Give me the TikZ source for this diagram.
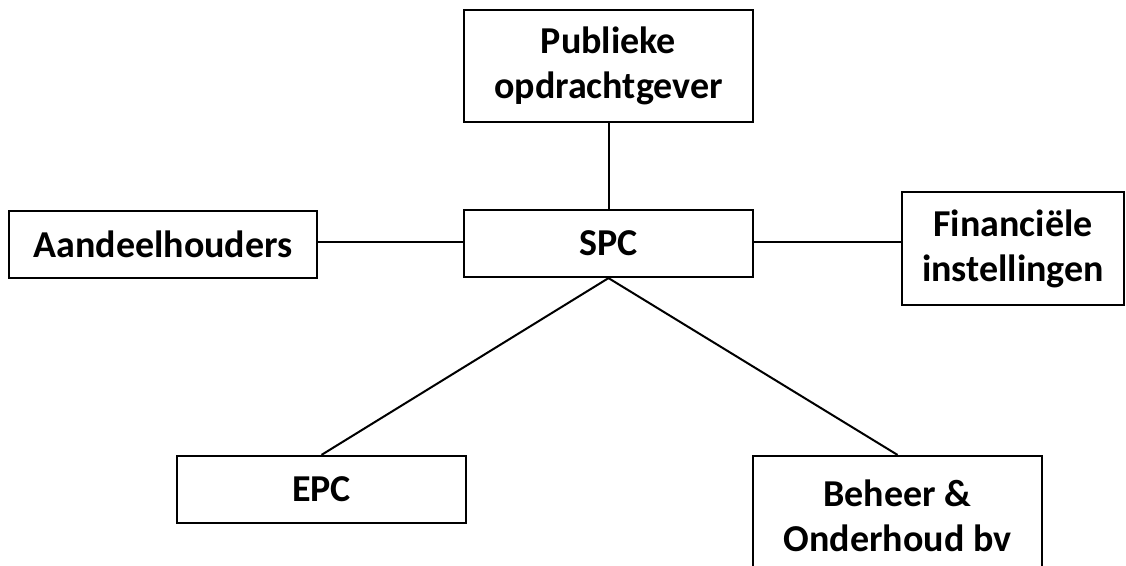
\documentclass[tikz,border=0pt]{standalone}
\usepackage{fontspec}
\setmainfont{Carlito}
\begin{document}
\begin{tikzpicture}[x=1pt,y=-1pt,
  box/.style={draw=black, line width=2.2pt, rectangle, inner sep=0pt,
    align=center, font=\fontsize{38}{45}\selectfont\bfseries},
  link/.style={draw=black, line width=2pt}]
\clip (0,0) rectangle (1126,565);
\fill[white] (0,0) rectangle (1126,565);

\node[box, minimum width=289pt, minimum height=112pt] (pub) at (608.5,66) {Publieke\\opdrachtgever};
\node[box, minimum width=289pt, minimum height=67pt] (spc) at (608.5,243.5) {SPC};
\node[box, minimum width=308pt, minimum height=67pt] (aand) at (163,244.5) {Aandeelhouders};
\node[box, minimum width=222pt, minimum height=113pt] (fin) at (1013,248.5) {Financiële\\instellingen};
\node[box, minimum width=289pt, minimum height=67pt] (epc) at (321.5,489.5) {EPC};
\node[box, minimum width=289pt, minimum height=120pt] (bo) at (897.5,516) {Beheer \&\\Onderhoud bv};

\draw[link] (pub.south) -- (spc.north);
\draw[link] (aand.east |- 0,242) -- (spc.west |- 0,242);
\draw[link] (spc.east |- 0,242) -- (fin.west |- 0,242);
\draw[link] (spc.south) -- (epc.north);
\draw[link] (spc.south) -- (bo.north);
\end{tikzpicture}
\end{document}
